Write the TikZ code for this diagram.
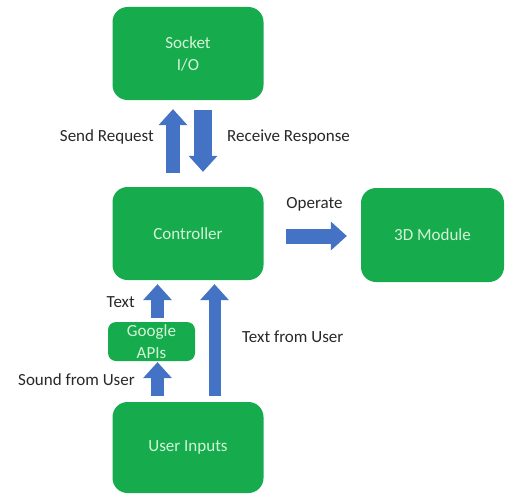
\documentclass[tikz,border=0pt]{standalone}
\usepackage{fontspec}
\setmainfont{Carlito}
\usetikzlibrary{arrows.meta}
\definecolor{boxgreen}{RGB}{22,172,78}
\definecolor{boxtext}{RGB}{212,244,214}
\definecolor{ablue}{RGB}{68,114,196}
\definecolor{lbl}{RGB}{40,40,40}
\tikzset{
  gbox/.style={fill=boxgreen, draw=none, rounded corners=15pt, text=boxtext,
    align=center, font=\fontsize{17}{22}\selectfont, inner sep=0pt},
  lab/.style={text=lbl, font=\fontsize{17}{20}\selectfont, inner sep=0pt},
  barrow/.style={draw=ablue, line width=#1,
    -{Triangle[width=29pt,length=16pt,line width=0pt,fill=ablue]}},
  barrow/.default=15pt
}
\begin{document}
\begin{tikzpicture}[x=1pt,y=-1pt]
\useasboundingbox (0,0) rectangle (505,495);
\node[gbox, minimum width=151pt, minimum height=93pt] (sock) at (188,53.5) {Socket\\I/O};
\node[gbox, minimum width=151pt, minimum height=93pt] (ctrl) at (188,233.5) {Controller};
\node[gbox, minimum width=143pt, minimum height=94pt] (mod) at (432.5,235) {3D Module};
\node[gbox, rounded corners=8pt, minimum width=87pt, minimum height=39pt] (goog) at (151.5,341.5) {Google\\APIs};
\node[gbox, minimum width=151pt, minimum height=91pt] (user) at (188,447.5) {User Inputs};

% Send / receive
\draw[barrow=14pt] ([xshift=-15pt,yshift=14pt]ctrl.north) -- ([xshift=-15pt,yshift=-9pt]sock.south);
\draw[barrow=18pt] ([xshift=15pt,yshift=-10pt]sock.south) -- ([xshift=15pt,yshift=15pt]ctrl.north);
% Operate
\draw[barrow=15pt] ([xshift=22pt,yshift=-2.5pt]ctrl.east) -- ([xshift=-14pt,yshift=-1pt]mod.west);
% Text
\draw[barrow=13pt] ([xshift=6pt,yshift=4pt]goog.north) -- ([xshift=-30.5pt,yshift=-4pt]ctrl.south);
% Sound from user
\draw[barrow=13pt] ([xshift=-30.5pt,yshift=6pt]user.north) -- ([xshift=6pt,yshift=-1pt]goog.south);
% Text from user
\draw[barrow=12pt] ([xshift=26.5pt,yshift=6pt]user.north) -- ([xshift=26.5pt,yshift=-4pt]ctrl.south);

\node[lab, anchor=east] (lsend) at (154,137) {Send Request};
\node[lab, anchor=west] (lrecv) at (227,137) {Receive Response};
\node[lab] (lop) at (314.5,204) {Operate};
\node[lab, anchor=east] (ltext) at (135,302) {Text};
\node[lab, anchor=east] (lsound) at (135,380) {Sound from User};
\node[lab, anchor=west] (ltfu) at (242,337) {Text from User};
\end{tikzpicture}
\end{document}
